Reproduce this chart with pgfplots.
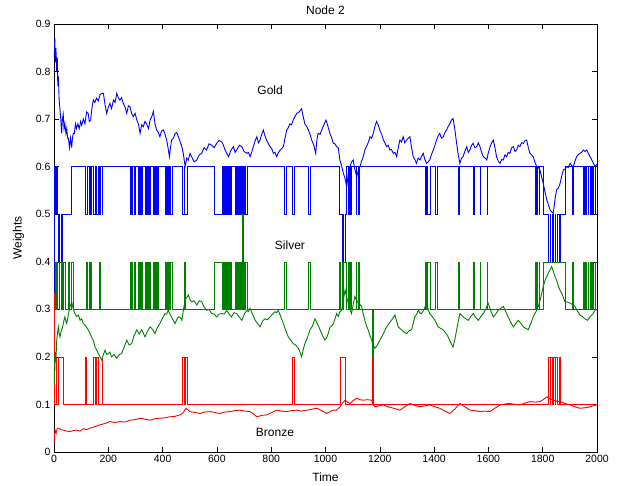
\documentclass[border=0pt]{standalone}
\usepackage{fontspec}
\setmainfont{Liberation Sans}
\usepackage{pgfplots}
\usepackage{pgfplotstable}
\pgfplotsset{compat=1.18}
\definecolor{mblue}{RGB}{0,0,255}
\definecolor{mgreen}{RGB}{0,128,0}
\definecolor{mred}{RGB}{255,0,0}

% step weights: t blue green red (held until next t)
\pgfplotstableread{
t b g r
0 0.333 0.333 0.333
1 0.6 0.3 0.1
4 0.5 0.4 0.1
7 0.5 0.3 0.2
9 0.6 0.3 0.1
11 0.5 0.4 0.1
14 0.4 0.4 0.2
18 0.5 0.3 0.2
21 0.4 0.4 0.2
25 0.5 0.3 0.2
28 0.4 0.4 0.2
31 0.5 0.3 0.2
34 0.5 0.4 0.1
41 0.5 0.3 0.1
53 0.5 0.4 0.1
58 0.5 0.3 0.1
62 0.6 0.4 0.1
70 0.6 0.3 0.1
114 0.5 0.3 0.2
118 0.5 0.4 0.1
121 0.6 0.3 0.1
130 0.5 0.4 0.1
133 0.6 0.3 0.1
136 0.5 0.4 0.1
139 0.6 0.3 0.1
145 0.5 0.3 0.2
151 0.6 0.3 0.1
155 0.5 0.3 0.2
163 0.6 0.3 0.1
167 0.5 0.4 0.1
169 0.6 0.3 0.1
176 0.5 0.3 0.2
179 0.6 0.3 0.1
280 0.5 0.4 0.1
282 0.6 0.3 0.1
285 0.5 0.4 0.1
287 0.6 0.3 0.1
296 0.5 0.4 0.1
300 0.6 0.3 0.1
310 0.5 0.4 0.1
312 0.6 0.3 0.1
315 0.5 0.4 0.1
318 0.6 0.3 0.1
321 0.5 0.4 0.1
324 0.6 0.3 0.1
335 0.5 0.4 0.1
337 0.6 0.3 0.1
340 0.5 0.4 0.1
343 0.6 0.3 0.1
346 0.5 0.4 0.1
348 0.6 0.3 0.1
351 0.5 0.4 0.1
354 0.6 0.3 0.1
366 0.5 0.4 0.1
368 0.6 0.3 0.1
372 0.5 0.4 0.1
375 0.6 0.3 0.1
380 0.5 0.4 0.1
384 0.6 0.3 0.1
409 0.5 0.4 0.1
411 0.6 0.3 0.1
415 0.5 0.4 0.1
418 0.6 0.3 0.1
422 0.5 0.4 0.1
425 0.6 0.3 0.1
430 0.5 0.4 0.1
434 0.6 0.3 0.1
474 0.5 0.3 0.2
479 0.6 0.3 0.1
481 0.5 0.4 0.1
483 0.5 0.3 0.2
489 0.6 0.3 0.1
590 0.5 0.4 0.1
618 0.6 0.3 0.1
624 0.5 0.4 0.1
626 0.6 0.3 0.1
630 0.5 0.4 0.1
633 0.6 0.3 0.1
638 0.5 0.4 0.1
640 0.6 0.3 0.1
645 0.5 0.4 0.1
648 0.6 0.3 0.1
652 0.5 0.4 0.1
654 0.6 0.3 0.1
667 0.5 0.4 0.1
669 0.6 0.3 0.1
673 0.5 0.4 0.1
676 0.6 0.3 0.1
680 0.5 0.4 0.1
682 0.6 0.3 0.1
687 0.5 0.4 0.1
690 0.6 0.3 0.1
694 0.5 0.5 0.1
696 0.6 0.3 0.1
699 0.5 0.4 0.1
701 0.6 0.3 0.1
705 0.5 0.4 0.1
710 0.6 0.3 0.1
848 0.5 0.4 0.1
855 0.6 0.3 0.1
879 0.5 0.3 0.2
885 0.6 0.3 0.1
937 0.5 0.4 0.1
943 0.6 0.3 0.1
1051 0.5 0.4 0.1
1055 0.5 0.3 0.2
1060 0.4 0.4 0.2
1064 0.5 0.3 0.2
1066 0.4 0.4 0.2
1072 0.5 0.4 0.1
1076 0.6 0.3 0.1
1084 0.5 0.4 0.1
1087 0.6 0.3 0.1
1092 0.5 0.4 0.1
1096 0.6 0.3 0.1
1112 0.5 0.4 0.1
1115 0.6 0.3 0.1
1120 0.5 0.4 0.1
1125 0.6 0.3 0.1
1174 0.6 0.2 0.2
1176 0.6 0.3 0.1
1366 0.5 0.4 0.1
1368 0.6 0.3 0.1
1371 0.5 0.4 0.1
1373 0.6 0.3 0.1
1376 0.5 0.4 0.1
1386 0.6 0.3 0.1
1403 0.5 0.4 0.1
1412 0.6 0.3 0.1
1489 0.5 0.4 0.1
1491 0.6 0.3 0.1
1545 0.5 0.4 0.1
1547 0.6 0.3 0.1
1569 0.5 0.4 0.1
1571 0.6 0.3 0.1
1594 0.5 0.4 0.1
1596 0.6 0.3 0.1
1772 0.5 0.4 0.1
1775 0.6 0.3 0.1
1778 0.5 0.4 0.1
1781 0.6 0.3 0.1
1786 0.5 0.4 0.1
1789 0.6 0.3 0.1
1802 0.5 0.4 0.1
1821 0.4 0.4 0.2
1826 0.5 0.4 0.1
1829 0.4 0.4 0.2
1836 0.5 0.4 0.1
1839 0.4 0.4 0.2
1845 0.5 0.4 0.1
1848 0.4 0.4 0.2
1852 0.5 0.4 0.1
1860 0.4 0.4 0.2
1864 0.5 0.4 0.1
1882 0.6 0.3 0.1
1907 0.5 0.4 0.1
1913 0.6 0.3 0.1
1950 0.5 0.4 0.1
1953 0.6 0.3 0.1
1957 0.5 0.4 0.1
1961 0.6 0.3 0.1
1966 0.5 0.4 0.1
1969 0.6 0.3 0.1
1974 0.5 0.4 0.1
1977 0.6 0.3 0.1
1984 0.5 0.4 0.1
1987 0.6 0.3 0.1
1993 0.5 0.4 0.1
2000 0.5 0.4 0.1
}\steps

\pgfplotstableread{
t v
1 0.83
3 0.87
5 0.82
7 0.85
10 0.80
12 0.83
14 0.77
16 0.79
19 0.74
22 0.72
25 0.70
28 0.67
31 0.70
34 0.71
37 0.68
40 0.69
44 0.67
47 0.68
50 0.66
53 0.66
57 0.64
61 0.66
65 0.64
68 0.66
71 0.67
75 0.67
79 0.69
83 0.68
88 0.69
93 0.68
98 0.695
102 0.687
108 0.70
114 0.69
120 0.715
126 0.712
130 0.695
135 0.698
140 0.725
145 0.740
150 0.735
157 0.744
163 0.738
170 0.752
176 0.754
182 0.754
188 0.73
194 0.712
200 0.725
206 0.733
212 0.722
219 0.740
225 0.735
231 0.754
237 0.745
243 0.740
249 0.745
255 0.733
262 0.725
268 0.712
274 0.728
280 0.726
286 0.712
292 0.705
299 0.712
305 0.698
311 0.690
317 0.670
323 0.688
329 0.684
335 0.695
341 0.690
348 0.680
354 0.698
360 0.705
366 0.716
372 0.690
378 0.677
384 0.672
390 0.663
396 0.675
403 0.677
409 0.668
415 0.656
420 0.640
425 0.621
429 0.640
433 0.656
440 0.660
446 0.670
452 0.672
458 0.663
465 0.652
471 0.642
477 0.625
483 0.600
489 0.618
495 0.614
501 0.628
507 0.621
516 0.610
526 0.614
535 0.625
544 0.628
553 0.640
562 0.635
571 0.648
581 0.645
590 0.640
599 0.649
608 0.655
618 0.652
624 0.645
630 0.635
636 0.628
643 0.621
652 0.635
661 0.642
667 0.630
673 0.635
683 0.645
692 0.642
700 0.632
710 0.628
716 0.630
722 0.621
728 0.630
734 0.642
741 0.655
747 0.663
753 0.650
759 0.656
765 0.668
771 0.677
777 0.665
783 0.656
790 0.648
796 0.642
802 0.638
808 0.628
814 0.630
820 0.621
827 0.630
833 0.635
839 0.638
845 0.642
851 0.660
857 0.677
863 0.682
869 0.690
875 0.688
881 0.698
887 0.705
894 0.712
903 0.715
912 0.722
918 0.705
924 0.690
930 0.685
937 0.677
943 0.668
949 0.656
957 0.645
964 0.628
968 0.655
973 0.670
980 0.668
986 0.677
994 0.688
1002 0.698
1009 0.685
1016 0.670
1022 0.662
1029 0.649
1035 0.648
1041 0.642
1047 0.640
1053 0.614
1060 0.600
1066 0.586
1072 0.575
1078 0.558
1084 0.585
1090 0.600
1096 0.610
1102 0.614
1108 0.595
1115 0.579
1121 0.592
1127 0.600
1133 0.612
1139 0.621
1145 0.635
1151 0.642
1157 0.650
1164 0.663
1170 0.660
1176 0.670
1182 0.685
1188 0.695
1194 0.688
1200 0.677
1207 0.668
1213 0.656
1219 0.650
1225 0.642
1231 0.645
1237 0.635
1243 0.636
1250 0.628
1256 0.630
1262 0.621
1268 0.640
1274 0.656
1280 0.652
1286 0.663
1292 0.650
1299 0.656
1305 0.660
1311 0.663
1317 0.640
1323 0.621
1329 0.615
1335 0.607
1341 0.618
1348 0.614
1354 0.622
1360 0.628
1366 0.615
1372 0.607
1378 0.610
1384 0.614
1390 0.625
1397 0.635
1403 0.645
1409 0.656
1415 0.665
1421 0.670
1427 0.660
1434 0.663
1440 0.672
1446 0.677
1452 0.685
1458 0.690
1464 0.698
1470 0.701
1476 0.680
1483 0.649
1489 0.625
1495 0.607
1501 0.618
1507 0.621
1513 0.632
1520 0.642
1526 0.630
1532 0.635
1538 0.645
1544 0.649
1550 0.640
1557 0.642
1563 0.650
1569 0.642
1575 0.630
1581 0.621
1588 0.618
1594 0.614
1600 0.630
1606 0.642
1612 0.650
1618 0.656
1624 0.640
1630 0.621
1636 0.612
1643 0.607
1649 0.615
1655 0.614
1661 0.625
1667 0.621
1673 0.630
1679 0.628
1686 0.640
1692 0.642
1698 0.632
1704 0.635
1710 0.645
1716 0.642
1722 0.650
1729 0.649
1735 0.655
1741 0.656
1747 0.640
1753 0.628
1759 0.625
1765 0.621
1771 0.610
1778 0.600
1784 0.598
1790 0.593
1796 0.578
1802 0.565
1808 0.548
1815 0.530
1821 0.520
1827 0.509
1833 0.505
1839 0.502
1845 0.530
1851 0.551
1858 0.555
1864 0.565
1870 0.580
1876 0.593
1882 0.595
1888 0.600
1894 0.598
1901 0.607
1907 0.602
1913 0.600
1919 0.612
1925 0.621
1931 0.625
1937 0.628
1943 0.630
1950 0.635
1956 0.632
1962 0.635
1968 0.628
1974 0.621
1980 0.615
1987 0.607
1993 0.600
2000 0.605
}\gold

\pgfplotstableread{
t v
1 0.14
2 0.20
3 0.17
5 0.21
7 0.19
10 0.235
13 0.25
16 0.263
19 0.25
22 0.242
27 0.255
32 0.263
36 0.275
40 0.284
44 0.275
47 0.270
53 0.29
59 0.306
62 0.31
65 0.316
71 0.30
77 0.291
83 0.285
90 0.288
96 0.277
102 0.28
108 0.270
117 0.265
126 0.257
132 0.25
138 0.242
145 0.235
151 0.221
157 0.215
163 0.207
170 0.20
176 0.193
182 0.205
188 0.214
194 0.205
200 0.207
206 0.21
212 0.200
221 0.205
231 0.197
240 0.205
249 0.207
258 0.22
268 0.235
277 0.225
286 0.228
295 0.245
305 0.257
314 0.248
323 0.257
329 0.25
335 0.242
345 0.255
354 0.263
363 0.258
372 0.249
381 0.262
390 0.270
400 0.282
409 0.291
415 0.29
421 0.298
427 0.29
433 0.284
440 0.276
446 0.270
452 0.278
458 0.284
465 0.283
471 0.277
477 0.30
483 0.320
489 0.325
495 0.330
501 0.32
507 0.316
516 0.318
526 0.309
535 0.318
544 0.316
553 0.305
562 0.298
571 0.30
581 0.291
590 0.29
599 0.284
608 0.29
618 0.291
627 0.29
636 0.298
645 0.29
654 0.284
663 0.293
673 0.291
683 0.283
692 0.277
701 0.29
710 0.298
716 0.295
722 0.302
731 0.29
741 0.277
750 0.27
759 0.263
768 0.275
777 0.280
786 0.278
796 0.284
805 0.29
814 0.295
820 0.293
826 0.298
835 0.285
845 0.270
854 0.255
863 0.242
872 0.235
881 0.228
890 0.225
900 0.218
906 0.21
912 0.200
918 0.215
924 0.228
933 0.24
943 0.257
952 0.265
961 0.280
970 0.27
980 0.257
989 0.245
998 0.235
1004 0.24
1010 0.249
1017 0.263
1023 0.265
1029 0.270
1035 0.28
1041 0.291
1047 0.285
1053 0.295
1059 0.298
1066 0.32
1072 0.341
1078 0.325
1084 0.313
1090 0.30
1096 0.291
1102 0.31
1108 0.327
1115 0.318
1121 0.313
1127 0.31
1133 0.306
1139 0.29
1145 0.277
1151 0.265
1157 0.257
1164 0.245
1170 0.235
1176 0.225
1182 0.218
1188 0.222
1194 0.228
1200 0.235
1207 0.242
1216 0.252
1225 0.263
1234 0.27
1243 0.277
1250 0.283
1256 0.288
1262 0.275
1268 0.263
1274 0.26
1280 0.257
1290 0.252
1299 0.249
1308 0.255
1317 0.257
1323 0.27
1329 0.284
1336 0.29
1342 0.298
1348 0.292
1354 0.291
1363 0.30
1372 0.313
1378 0.30
1384 0.291
1393 0.285
1403 0.277
1409 0.27
1415 0.263
1424 0.26
1433 0.257
1443 0.25
1452 0.242
1461 0.23
1470 0.221
1476 0.235
1483 0.257
1489 0.275
1495 0.291
1501 0.288
1507 0.284
1517 0.28
1526 0.277
1535 0.285
1544 0.291
1553 0.283
1563 0.277
1572 0.285
1581 0.291
1590 0.30
1599 0.313
1608 0.298
1618 0.284
1627 0.29
1636 0.298
1645 0.302
1655 0.306
1664 0.295
1673 0.284
1683 0.272
1692 0.263
1701 0.27
1710 0.277
1720 0.27
1729 0.263
1738 0.26
1747 0.257
1756 0.27
1765 0.284
1775 0.295
1784 0.306
1793 0.325
1802 0.348
1808 0.36
1815 0.369
1824 0.38
1833 0.390
1839 0.38
1845 0.369
1852 0.36
1858 0.348
1864 0.34
1870 0.334
1876 0.325
1882 0.316
1891 0.315
1901 0.313
1910 0.31
1919 0.306
1928 0.296
1937 0.288
1946 0.285
1956 0.280
1965 0.277
1974 0.284
1984 0.29
1993 0.298
2000 0.30
}\silver

\pgfplotstableread{
t v
0 0.02
2 0.035
4 0.046
8 0.04
12 0.05
16 0.050
25 0.047
34 0.046
46 0.044
59 0.043
70 0.045
83 0.046
95 0.044
108 0.049
120 0.047
132 0.050
150 0.053
169 0.057
188 0.06
206 0.064
225 0.062
243 0.064
262 0.063
280 0.067
298 0.068
317 0.071
335 0.069
354 0.067
372 0.07
390 0.071
409 0.072
427 0.074
446 0.075
464 0.078
475 0.082
486 0.092
494 0.088
501 0.085
520 0.083
538 0.081
556 0.084
575 0.085
593 0.083
611 0.081
630 0.084
648 0.085
667 0.087
685 0.088
703 0.086
722 0.085
735 0.08
747 0.074
765 0.077
783 0.078
802 0.083
820 0.088
838 0.086
857 0.085
875 0.087
894 0.088
912 0.086
931 0.088
950 0.09
968 0.092
986 0.087
1004 0.081
1017 0.085
1030 0.088
1041 0.088
1053 0.095
1062 0.102
1072 0.109
1081 0.105
1090 0.102
1102 0.108
1115 0.113
1127 0.11
1139 0.109
1155 0.11
1170 0.109
1176 0.100
1182 0.095
1197 0.097
1213 0.099
1231 0.095
1250 0.092
1262 0.09
1274 0.088
1292 0.095
1311 0.102
1329 0.098
1348 0.095
1366 0.097
1384 0.099
1403 0.095
1421 0.092
1440 0.086
1458 0.081
1476 0.09
1495 0.102
1513 0.095
1532 0.088
1550 0.087
1569 0.085
1588 0.086
1606 0.085
1624 0.092
1643 0.099
1661 0.101
1679 0.102
1698 0.1
1716 0.099
1735 0.103
1753 0.106
1772 0.105
1790 0.106
1802 0.11
1815 0.116
1827 0.112
1839 0.109
1851 0.107
1864 0.106
1882 0.102
1901 0.099
1919 0.095
1937 0.092
1956 0.093
1974 0.095
1984 0.097
2000 0.099
}\bronze

\begin{document}
\begin{tikzpicture}
\begin{axis}[
  scale only axis,
  width=543pt, height=428pt,
  xmin=0, xmax=2000, ymin=0, ymax=0.9,
  xtick={0,200,...,2000},
  ytick={0,0.1,0.2,0.3,0.4,0.5,0.6,0.7,0.8,0.9},
  yticklabels={0,0.1,0.2,0.3,0.4,0.5,0.6,0.7,0.8,0.9},
  /pgf/number format/assume math mode=true,
  /pgf/number format/1000 sep={},
  tick label style={font=\fontsize{10.5}{12}\selectfont},
  label style={font=\fontsize{12}{14}\selectfont},
  title style={font=\fontsize{12}{14}\selectfont, yshift=0pt},
  title={Node 2},
  xlabel={Time}, ylabel={Weights},
  xlabel style={yshift=-3pt},
  ylabel style={yshift=5pt},
  tick align=inside, tick pos=both,
  major tick length=5pt,
  axis line style={black, line width=0.6pt},
  every tick/.style={black, line width=0.5pt},
  scaled ticks=false,
  clip=true,
]
\addplot[mblue, line width=0.5pt, const plot mark left] table[x=t, y=b] {\steps};
\addplot[mgreen, line width=0.5pt, const plot mark left] table[x=t, y=g] {\steps};
\addplot[mred, line width=0.5pt, const plot mark left] table[x=t, y=r] {\steps};
\addplot[mblue, line width=0.9pt] table[x=t, y=v] {\gold};
\addplot[mgreen, line width=0.9pt] table[x=t, y=v] {\silver};
\addplot[mred, line width=0.9pt] table[x=t, y=v] {\bronze};
\node[font=\fontsize{12}{14}\selectfont] at (axis cs:796,0.761) {Gold};
\node[font=\fontsize{12}{14}\selectfont] at (axis cs:869,0.435) {Silver};
\node[font=\fontsize{12}{14}\selectfont] at (axis cs:814,0.042) {Bronze};
\end{axis}
\pgfresetboundingbox
\path[use as bounding box] (-54pt,-34pt) rectangle (567pt,452pt);
\end{tikzpicture}
\end{document}
